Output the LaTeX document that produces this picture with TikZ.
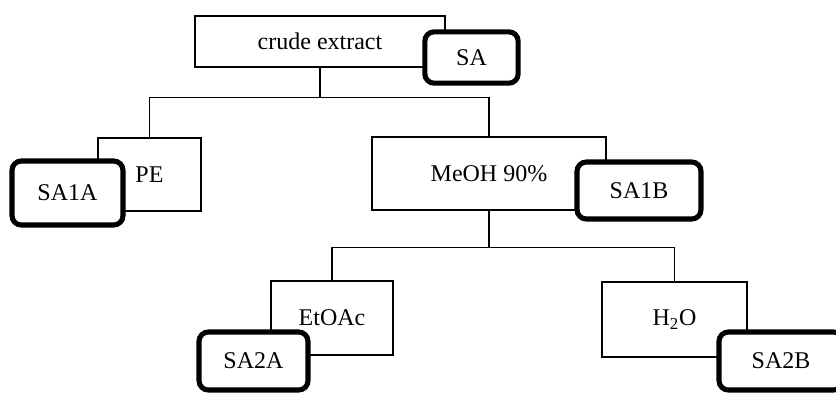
\documentclass[tikz,border=0pt]{standalone}
\usepackage{fontspec}
\setmainfont{Liberation Serif}
\begin{document}
\begin{tikzpicture}[x=0.75pt, y=-0.75pt,
  fraction/.style={shape=rectangle, draw=black, line width=1.1pt, fill=white, inner sep=0pt, font=\fontsize{18}{21}\selectfont},
  sample/.style={shape=rectangle, draw=black, line width=3.8pt, fill=white, rounded corners=7pt, inner sep=0pt, font=\fontsize{18}{21}\selectfont},
  link/.style={draw=black, line width=1.1pt}]
\useasboundingbox (0,0) rectangle (836,394);
\clip (0,0) rectangle (836,394);
\node[fraction, minimum width=187.5pt, minimum height=38.25pt] (crude) at (320,41.5) {crude extract};
\node[fraction, minimum width=77.25pt, minimum height=54.75pt] (PE) at (149.5,174.5) {PE};
\node[fraction, minimum width=175.5pt, minimum height=54.75pt] (MeOH) at (489,173.5) {MeOH 90\%};
\node[fraction, minimum width=91.5pt, minimum height=55.5pt] (EtOAc) at (332,318) {EtOAc};
\node[fraction, minimum width=108.75pt, minimum height=56.25pt] (H2O) at (674.5,319.5) {H\textsubscript{2}O};
\path[link] (crude.south) -- ++(0,30) coordinate (j1);
\path[link] (PE.north) |- (j1) -| (MeOH.north);
\path[link] (MeOH.south) -- ++(0,37) coordinate (j2);
\path[link] (EtOAc.north) |- (j2) -| (H2O.north);
\node[sample, minimum width=70pt, minimum height=38.5pt] (SA) at (471.5,57.5) {SA};
\node[sample, minimum width=83.25pt, minimum height=48pt] (SA1A) at (67.5,193) {SA1A};
\node[sample, minimum width=93pt, minimum height=42.75pt] (SA1B) at (639,190.5) {SA1B};
\node[sample, minimum width=81.75pt, minimum height=43.5pt] (SA2A) at (253.5,361) {SA2A};
\node[sample, minimum width=93pt, minimum height=43.5pt] (SA2B) at (781,361) {SA2B};
\end{tikzpicture}
\end{document}
